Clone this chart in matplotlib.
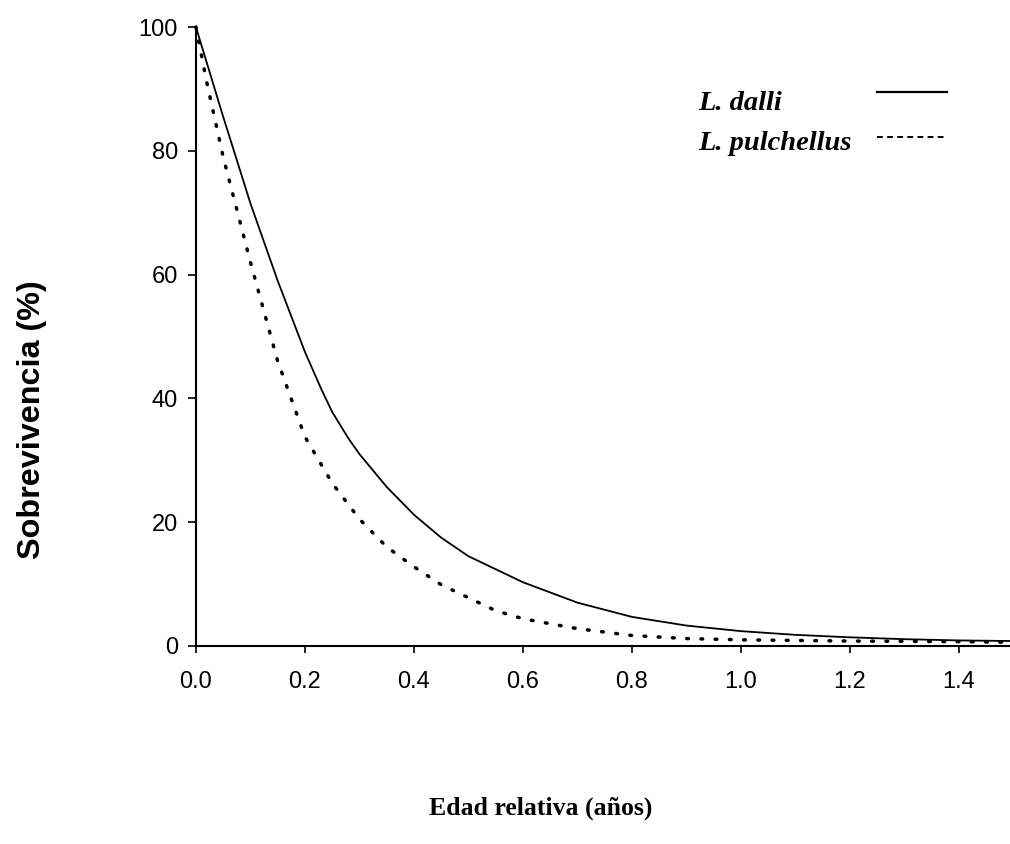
import matplotlib
matplotlib.use('Agg')
import matplotlib.pyplot as plt

# edad relativa (anos) y sobrevivencia (%) de cada especie
edad_dalli = [0.00, 0.05, 0.10, 0.15, 0.20, 0.23, 0.25, 0.28, 0.30, 0.35, 0.40, 0.45,
              0.50, 0.60, 0.70, 0.80, 0.90, 1.00, 1.10, 1.20, 1.30, 1.40, 1.50]
sobrev_dalli = [100, 85.5, 71.5, 59, 47.5, 41.5, 37.8, 33.5, 31.0, 25.7, 21.2, 17.5,
                14.5, 10.3, 7.0, 4.7, 3.3, 2.4, 1.8, 1.4, 1.1, 0.9, 0.8]

edad_pulchellus = [0.00, 0.02, 0.05, 0.10, 0.15, 0.20, 0.25, 0.30, 0.35, 0.40, 0.45,
                   0.50, 0.55, 0.60, 0.70, 0.80, 0.90, 1.00, 1.20, 1.40, 1.50]
sobrev_pulchellus = [100, 91, 79, 62, 46, 33.8, 26.3, 20.5, 16.0, 12.8, 9.9,
                     7.8, 5.7, 4.4, 2.8, 1.7, 1.2, 1.0, 0.8, 0.7, 0.6]

x_ticks = [0.0, 0.2, 0.4, 0.6, 0.8, 1.0, 1.2, 1.4]
x_ticklabels = ['0.0', '0.2', '0.4', '0.6', '0.8', '1.0', '1.2', '1.4']
y_ticks = [0, 20, 40, 60, 80, 100]

especies = ['L. dalli', 'L. pulchellus']

fig = plt.figure(figsize=(10.1, 8.44), dpi=100)
ax = fig.add_axes([0.194, 0.2346, 0.8095, 0.7334])

ax.plot(edad_dalli, sobrev_dalli, color='black', lw=1.3, clip_on=False)
ax.plot(edad_pulchellus, sobrev_pulchellus, color='black', lw=2.5,
        dashes=(0.5, 3.6), dash_capstyle='round', clip_on=False)

ax.set_xlim(0, 1.5)
ax.set_ylim(0, 100)

for s in ['top', 'right']:
    ax.spines[s].set_visible(False)
for s in ['left', 'bottom']:
    ax.spines[s].set_linewidth(1.5)

ax.set_xticks(x_ticks)
ax.set_xticklabels(x_ticklabels)
ax.set_yticks(y_ticks)
ax.tick_params(axis='x', direction='out', length=5, width=1.2, pad=13)
ax.tick_params(axis='y', direction='out', length=6, width=1.2, pad=7)
for lab in ax.get_xticklabels() + ax.get_yticklabels():
    lab.set_fontfamily('Liberation Sans')
    lab.set_fontsize(17)

ax.set_ylabel('Sobrevivencia (%)', family='Liberation Sans', weight='bold',
              fontsize=23.3, va='center', ha='center')
ax.yaxis.set_label_coords(-0.201, 0.365)
ax.set_xlabel('Edad relativa (años)', family='Liberation Serif', weight='bold',
              fontsize=18.5, va='center', ha='center')
ax.xaxis.set_label_coords(0.422, -0.262)

# leyenda: nombre a la izquierda, muestra de linea a la derecha
estilos = [dict(lw=1.6), dict(lw=1.4, dashes=(3.0, 2.2))]
for i, (nombre, est) in enumerate(zip(especies, estilos)):
    ax.text(0.614, 0.866 - i * 0.065, nombre, transform=ax.transAxes,
            family='Liberation Serif', weight='bold', style='italic',
            fontsize=20.5, ha='left', va='baseline')
    ax.plot([0.833, 0.919], [0.895 - i * 0.073] * 2, color='black',
            transform=ax.transAxes, **est)

fig.savefig('out.png', dpi=100)
